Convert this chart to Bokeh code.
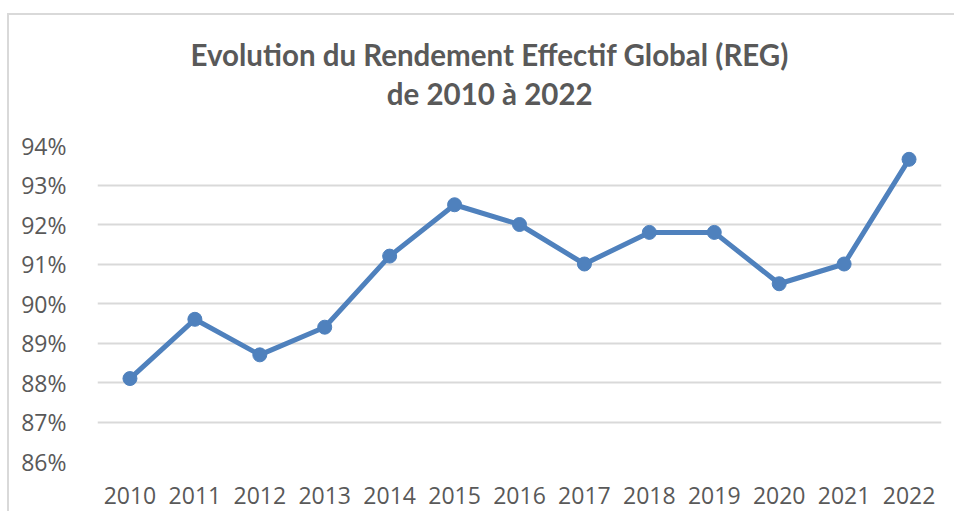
from bokeh.plotting import figure
from bokeh.models import FactorRange, Range1d, FixedTicker, NumeralTickFormatter, Title, ColumnDataSource
from bokeh.embed import file_html
from bokeh.resources import INLINE

years = ["2010", "2011", "2012", "2013", "2014", "2015", "2016",
         "2017", "2018", "2019", "2020", "2021", "2022"]
reg_pct = [88.1, 89.6, 88.7, 89.4, 91.2, 92.5, 92.0, 91.0, 91.8, 91.8, 90.5, 91.0, 93.65]
y_ticks = [0.86, 0.87, 0.88, 0.89, 0.90, 0.91, 0.92, 0.93, 0.94]
title_text = "Evolution du Rendement Effectif Global (REG)\nde 2010 à 2022"

src = ColumnDataSource(dict(year=years, reg=[v / 100 for v in reg_pct]))

TXT = "#595959"
BLUE = "#4f81bd"
GRID = "#d9d9d9"

p = figure(width=955, height=512, output_backend="svg", toolbar_location=None,
           x_range=FactorRange(*years), y_range=Range1d(0.86, 0.94),
           min_border_left=97, min_border_right=14, min_border_top=145, min_border_bottom=51,
           styles={
               "background-color": "white",
               "background-image": "linear-gradient(#d9d9d9, #d9d9d9), linear-gradient(#d9d9d9, #d9d9d9)",
               "background-size": "2px calc(100% - 14px), calc(100% - 8px) 2px",
               "background-position": "7px 13px, 7px 13px",
               "background-repeat": "no-repeat",
           })
p.border_fill_color = None
p.background_fill_color = "white"
p.outline_line_color = None

p.title = None
p.add_layout(Title(text=title_text, align="left", text_align="center", text_font="Lato",
                   text_font_size="29.5px", text_font_style="bold", text_color=TXT,
                   text_line_height=1.12, standoff=68, offset=93), "above")

p.line("year", "reg", source=src, line_color=BLUE, line_width=5)
p.scatter("year", "reg", source=src, size=14, fill_color=BLUE, line_color=BLUE)

p.yaxis.ticker = FixedTicker(ticks=y_ticks)
p.yaxis.formatter = NumeralTickFormatter(format="0%")
for ax in (p.xaxis[0], p.yaxis[0]):
    ax.axis_line_color = None
    ax.major_tick_line_color = None
    ax.minor_tick_line_color = None
    ax.major_label_text_font = "Open Sans"
    ax.major_label_text_font_size = "23px"
    ax.major_label_text_color = TXT
p.yaxis.major_label_standoff = 25
p.xaxis.major_label_standoff = 19

p.xgrid.grid_line_color = None
p.ygrid.grid_line_color = GRID
p.ygrid.grid_line_width = 2

open("out.html", "w").write(file_html(p, INLINE))
